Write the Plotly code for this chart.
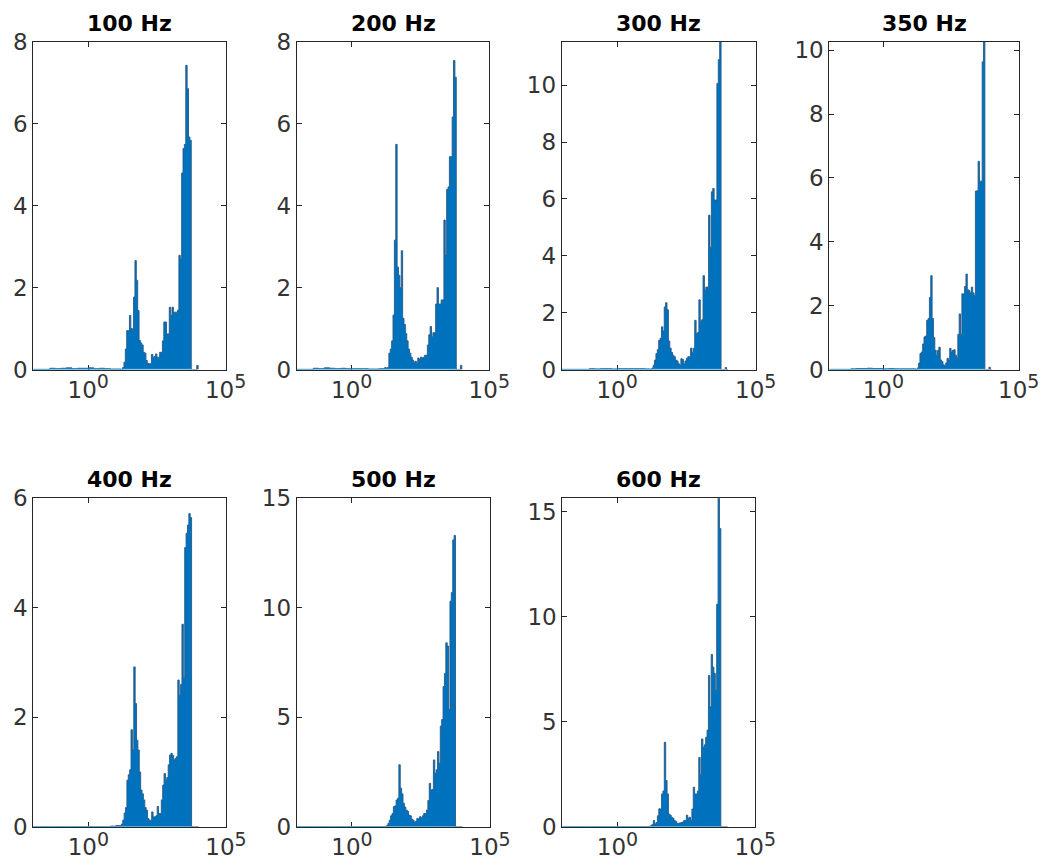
import numpy as np
import plotly.graph_objects as go

# ---------------- data ----------------
TITLES = ["100 Hz", "200 Hz", "300 Hz", "350 Hz", "400 Hz", "500 Hz", "600 Hz"]

# histogram bins, in log10(x): coarse low-level bins, then fine bins
NOISE_LOG10_START, NOISE_LOG10_STEP, NOISE_NBINS = -2.0, 0.2, 16
MAIN_LOG10_START, MAIN_LOG10_STEP, MAIN_NBINS = 1.2, 0.05, 56

NOISE_100 = [0, 0, 0, 0.03, 0.02, 0.03, 0.04, 0.02, 0.03, 0.03, 0.04, 0.02, 0.03, 0.02, 0.01, 0.01]
NOISE_200 = [0, 0, 0, 0.03, 0.02, 0.04, 0.03, 0.02, 0.03, 0.02, 0.02, 0.02, 0.02, 0.01, 0.01, 0.02]
NOISE_300 = [0, 0, 0, 0, 0, 0.03, 0.02, 0.03, 0.03, 0.02, 0.03, 0.03, 0.03, 0.03, 0.03, 0.02]
NOISE_350 = [0, 0, 0, 0, 0.02, 0.03, 0.03, 0.04, 0.03, 0.03, 0.02, 0.03, 0.02, 0.02, 0.02, 0.02]
NOISE_400 = [0, 0, 0, 0, 0, 0, 0, 0, 0, 0, 0, 0, 0, 0, 0.01, 0.02]
NOISE_500 = [0, 0, 0, 0, 0, 0, 0, 0, 0, 0, 0, 0, 0, 0, 0, 0]
NOISE_600 = [0, 0, 0, 0, 0, 0, 0, 0, 0, 0, 0, 0, 0, 0, 0, 0]

MAIN_100 = [0, 0.05, 0.18, 0.5, 0.95, 0.95, 1.32, 1.0, 0.99, 1.77,
            2.66, 2.18, 1.44, 0.71, 0.65, 0.6, 0.42, 0.4, 0.22, 0.15,
            0.14, 0.14, 0.37, 0.3, 0.32, 0.38, 0.3, 0.3, 0.42, 0.42,
            0.7, 1.16, 1.16, 0.87, 0.87, 1.52, 1.32, 1.52, 1.4, 1.4,
            1.4, 1.45, 2.79, 2.7, 4.8, 5.4, 5.5, 7.43, 6.86, 5.68,
            5.6, 0, 0, 0, 0, 0.1]
MAIN_200 = [0.05, 0.03, 0.05, 0.4, 0.5, 0.7, 1.33, 3.16, 5.5, 2.5,
            2.3, 2.0, 2.9, 1.25, 1.1, 0.88, 0.7, 0.5, 0.4, 0.3,
            0.23, 0.18, 0.2, 0.15, 0.28, 0.25, 0.3, 0.28, 0.3, 0.35,
            0.35, 0.6, 0.85, 1.05, 0.8, 0.9, 0.9, 1.6, 2.0, 1.6,
            1.6, 1.7, 1.7, 3.65, 2.8, 4.4, 4.46, 5.2, 5.2, 6.17,
            7.55, 7.14, 0, 0, 0, 0.1]
MAIN_300 = [0, 0.05, 0.15, 0.33, 0.56, 0.7, 1.03, 1.1, 1.5, 1.35,
            2.2, 2.35, 2.1, 1.0, 0.75, 0.6, 0.5, 0.45, 0.33, 0.3,
            0.2, 0.15, 0.38, 0.35, 0.2, 0.3, 0.4, 0.45, 0.45, 0.75,
            0.6, 0.75, 1.73, 1.27, 1.3, 2.45, 1.7, 1.75, 3.3, 2.8,
            2.9, 2.9, 5.43, 4.3, 6.25, 6.37, 5.96, 5.96, 10.06, 10.9,
            11.6, 0, 0, 0, 0.07, 0]
MAIN_350 = [0, 0.05, 0.2, 0.5, 0.55, 0.8, 1.02, 1.05, 1.54, 1.6,
            2.26, 2.94, 1.6, 1.0, 0.6, 0.45, 0.6, 0.7, 0.3, 0.25,
            0.15, 0.12, 0.2, 0.35, 0.3, 0.66, 0.55, 0.6, 0.62, 0.45,
            0.35, 1.1, 1.74, 1.1, 2.37, 2.37, 2.6, 2.99, 2.5, 2.47,
            2.4, 2.58, 2.4, 2.32, 5.59, 5.6, 6.52, 5.9, 5.9, 9.64,
            10.4, 0, 0, 0, 0.07, 0]
MAIN_400 = [0.05, 0.12, 0.25, 0.35, 0.85, 0.95, 1.04, 1.77, 1.4, 2.92,
            2.25, 1.58, 1.4, 1.0, 0.67, 0.6, 0.49, 0.35, 0.3, 0.15,
            0.12, 0.12, 0.27, 0.18, 0.18, 0.2, 0.37, 0.24, 0.24, 0.49,
            0.76, 0.97, 0.85, 0.9, 1.13, 1.31, 1.34, 1.3, 1.22, 1.25,
            1.28, 2.68, 2.4, 2.6, 3.7, 2.73, 5.1, 5.36, 5.51, 5.72,
            5.65, 0, 0, 0, 0, 0]
MAIN_500 = [0, 0.05, 0.15, 0.3, 0.5, 0.6, 0.92, 0.95, 1.22, 1.3,
            2.83, 1.76, 1.5, 1.07, 0.9, 0.76, 0.7, 0.53, 0.5, 0.35,
            0.3, 0.2, 0.25, 0.38, 0.35, 0.46, 0.4, 0.5, 0.6, 0.6,
            0.76, 1.2, 1.98, 1.68, 1.7, 3.05, 2.44, 2.6, 3.43, 2.9,
            4.6, 4.9, 6.4, 7.0, 8.4, 8.25, 5.35, 10.3, 10.7, 13.1,
            13.3, 0, 0, 0, 0, 0]
MAIN_600 = [0.05, 0.1, 0.29, 0.13, 0.2, 0.52, 0.85, 0.84, 1.56, 1.7,
            4.02, 2.2, 1.56, 0.6, 0.55, 0.45, 0.4, 0.29, 0.25, 0.16,
            0.16, 0.18, 0.2, 0.22, 0.29, 0.3, 0.55, 0.4, 0.45, 0.29,
            0.84, 1.88, 1.56, 1.56, 1.7, 3.3, 2.5, 4.18, 3.78, 3.9,
            4.26, 4.6, 7.2, 5.7, 8.2, 7.6, 7.3, 6.5, 10.6, 15.7,
            14.2, 0, 0, 0, 0, 0]

NOISE = [NOISE_100, NOISE_200, NOISE_300, NOISE_350, NOISE_400, NOISE_500, NOISE_600]
MAIN = [MAIN_100, MAIN_200, MAIN_300, MAIN_350, MAIN_400, MAIN_500, MAIN_600]

Y_MAX = [8, 8, 11.52, 10.26, 6, 15, 15.64]
Y_DTICK = [2, 2, 2, 2, 2, 5, 5]
X_TICKVALS = [1, 1e5]
X_TICKTEXT = ["10<sup><span style='font-size:19px'>0</span></sup>",
              "10<sup><span style='font-size:19px'>5</span></sup>"]

# ---------------- layout geometry (pixels) ----------------
W, H = 1042, 868
COLS = [(33.3, 225.6), (296.7, 489.3), (561.7, 755.7), (829.3, 1018.7),
        (33.3, 226.0), (296.7, 490.0), (562.3, 755.3)]
ROWS = [(42, 369.5)] * 4 + [(498.3, 826.7)] * 3

FACE = "#0072BD"
EDGE = "#245a88"
BASE = "#46afe8"
AX = "#262626"
FONT = "DejaVu Sans"

fig = go.Figure()
layout = {}
annotations = []

noise_left = [round(NOISE_LOG10_START + NOISE_LOG10_STEP * i, 4) for i in range(NOISE_NBINS)]
main_left = [round(MAIN_LOG10_START + MAIN_LOG10_STEP * i, 4) for i in range(MAIN_NBINS)]
last_edge = round(MAIN_LOG10_START + MAIN_LOG10_STEP * MAIN_NBINS, 4)

for k in range(7):
    n = k + 1
    xs = "x" if n == 1 else f"x{n}"
    ys = "y" if n == 1 else f"y{n}"
    left_log = noise_left + main_left
    heights = list(NOISE[k]) + list(MAIN[k])
    xe = [10 ** v for v in left_log] + [10 ** last_edge]
    ye = heights + [0]
    fig.add_trace(go.Scatter(
        x=xe, y=ye, mode="lines", line_shape="hv",
        line=dict(color=EDGE, width=0.9), fill="tozeroy", fillcolor=FACE,
        xaxis=xs, yaxis=ys, showlegend=False, hoverinfo="skip"))
    # zero-height bin edges along the baseline (up to the end of the main block)
    main_h = MAIN[k]
    last_big = max(i for i, v in enumerate(main_h) if v >= 0.5)
    end_log = MAIN_LOG10_START + MAIN_LOG10_STEP * (last_big + 1)
    fig.add_trace(go.Scatter(
        x=[10 ** left_log[0], 10 ** end_log], y=[0, 0], mode="lines",
        line=dict(color=BASE, width=1.5), xaxis=xs, yaxis=ys,
        showlegend=False, hoverinfo="skip"))

    x0, x1 = COLS[k]
    top, bot = ROWS[k]
    axcommon = dict(showline=True, linecolor=AX, linewidth=1, mirror="ticks",
                    ticks="inside", ticklen=5, tickcolor=AX, tickwidth=1,
                    showgrid=False, zeroline=False, layer="below traces",
                    automargin=False,
                    tickfont=dict(family=FONT, size=23, color="#333333"))
    layout["xaxis" if n == 1 else f"xaxis{n}"] = dict(
        type="log", range=[-2, 5], domain=[x0 / W, x1 / W], anchor=ys,
        tickvals=X_TICKVALS, ticktext=X_TICKTEXT, **axcommon)
    layout["yaxis" if n == 1 else f"yaxis{n}"] = dict(
        range=[0, Y_MAX[k]], domain=[1 - bot / H, 1 - top / H], anchor=xs,
        tick0=0, dtick=Y_DTICK[k], **axcommon)
    annotations.append(dict(
        text="<b>%s</b>" % TITLES[k], x=(x0 + x1) / 2 / W, y=1 - (top - 4) / H,
        xref="paper", yref="paper", xanchor="center", yanchor="bottom",
        showarrow=False, font=dict(family=FONT, size=22, color="#000000")))

fig.update_layout(**layout)
fig.update_layout(
    width=W, height=H,
    margin=dict(l=0, r=0, t=0, b=0, pad=0, autoexpand=False),
    paper_bgcolor="white", plot_bgcolor="white",
    annotations=annotations, showlegend=False,
    font=dict(family=FONT))

fig.write_html("out.html")
